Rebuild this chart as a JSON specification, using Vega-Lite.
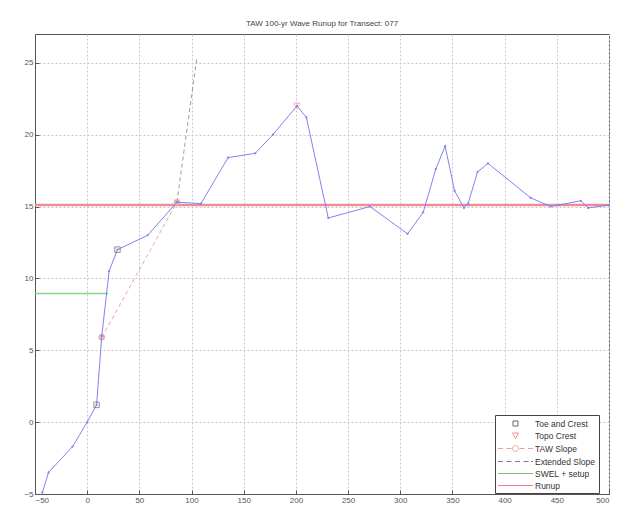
{
  "$schema": "https://vega.github.io/schema/vega-lite/v6.json",
  "width": 574,
  "height": 460,
  "autosize": "none",
  "padding": {"left": 35, "top": 34, "right": 16, "bottom": 18},
  "background": "white",
  "title": {"text": "TAW 100-yr Wave Runup for Transect: 077", "fontSize": 8, "fontWeight": "normal", "font": "Liberation Sans", "color": "#444", "offset": 6},
  "config": {
    "view": {"stroke": "#555", "strokeWidth": 1},
    "axis": {"grid": true, "gridColor": "#c8c8c8", "gridDash": [2, 2], "gridWidth": 1, "domainColor": "#555", "tickColor": "#555", "tickSize": -4, "labelFontSize": 8, "labelColor": "#555", "labelFont": "Liberation Sans", "title": null}
  },
  "layer": [
    {
      "data": {"values": [{"x": -50, "y": 15.1}, {"x": 500, "y": 15.1}]},
      "mark": {"type": "line", "stroke": "#f08a96", "strokeWidth": 2.5, "clip": true},
      "encoding": {
        "x": {"field": "x", "type": "quantitative", "scale": {"domain": [-50, 500], "nice": false, "zero": false}, "axis": {"values": [-50, 0, 50, 100, 150, 200, 250, 300, 350, 400, 450, 500], "labelPadding": 6}},
        "y": {"field": "y", "type": "quantitative", "scale": {"domain": [-5, 27], "nice": false, "zero": false}, "axis": {"values": [-5, 0, 5, 10, 15, 20, 25], "labelPadding": 6}}
      }
    },
    {
      "data": {"values": [{"x": -50, "y": 8.95}, {"x": 20, "y": 8.95}]},
      "mark": {"type": "line", "stroke": "#86d486", "strokeWidth": 1.5},
      "encoding": {"x": {"field": "x", "type": "quantitative"}, "y": {"field": "y", "type": "quantitative"}}
    },
    {
      "data": {"values": [{"x": 86, "y": 15.3}, {"x": 105, "y": 25.3}]},
      "mark": {"type": "line", "stroke": "#9a9ab4", "strokeWidth": 1, "strokeDash": [4, 3]},
      "encoding": {"x": {"field": "x", "type": "quantitative"}, "y": {"field": "y", "type": "quantitative"}}
    },
    {
      "data": {"values": [{"x": 14, "y": 5.9}, {"x": 86, "y": 15.3}]},
      "mark": {"type": "line", "stroke": "#eba8a8", "strokeWidth": 1, "strokeDash": [4, 3], "point": {"shape": "circle", "filled": false, "size": 20, "color": "#eba8a8"}},
      "encoding": {"x": {"field": "x", "type": "quantitative"}, "y": {"field": "y", "type": "quantitative"}}
    },
    {
      "data": {"values": [
        {"x": -43, "y": -4.9}, {"x": -37, "y": -3.5}, {"x": -14, "y": -1.7}, {"x": 0, "y": 0},
        {"x": 9, "y": 1.2}, {"x": 14, "y": 6}, {"x": 21, "y": 10.5}, {"x": 29, "y": 12},
        {"x": 58, "y": 13}, {"x": 86, "y": 15.3}, {"x": 109, "y": 15.2}, {"x": 135, "y": 18.4},
        {"x": 161, "y": 18.7}, {"x": 178, "y": 20.0}, {"x": 201, "y": 22.0}, {"x": 210, "y": 21.2},
        {"x": 231, "y": 14.2}, {"x": 271, "y": 15.0}, {"x": 307, "y": 13.1}, {"x": 322, "y": 14.6},
        {"x": 334, "y": 17.6}, {"x": 343, "y": 19.2}, {"x": 352, "y": 16.1}, {"x": 361, "y": 14.9},
        {"x": 365, "y": 15.2}, {"x": 374, "y": 17.4}, {"x": 384, "y": 18.0}, {"x": 425, "y": 15.6},
        {"x": 444, "y": 15.0}, {"x": 452, "y": 15.1}, {"x": 473, "y": 15.4}, {"x": 480, "y": 14.9},
        {"x": 500, "y": 15.1}
      ]},
      "mark": {"type": "line", "stroke": "#8282ec", "strokeWidth": 1, "point": {"filled": true, "size": 5, "color": "#8282ec"}},
      "encoding": {"x": {"field": "x", "type": "quantitative"}, "y": {"field": "y", "type": "quantitative"}}
    },
    {
      "data": {"values": [{"x": 9, "y": 1.2}, {"x": 29, "y": 12}]},
      "mark": {"type": "point", "shape": "square", "filled": false, "size": 30, "color": "#666", "strokeWidth": 1},
      "encoding": {"x": {"field": "x", "type": "quantitative"}, "y": {"field": "y", "type": "quantitative"}}
    },
    {
      "data": {"values": [{"x": 201, "y": 22.0}]},
      "mark": {"type": "point", "shape": "triangle-down", "filled": false, "size": 40, "color": "#e39a9a", "strokeWidth": 1},
      "encoding": {"x": {"field": "x", "type": "quantitative"}, "y": {"field": "y", "type": "quantitative"}}
    },
    {
      "data": {"values": [
        {"s": "Toe and Crest", "x": 9, "y": 1.2},
        {"s": "Topo Crest", "x": 201, "y": 22},
        {"s": "TAW Slope", "x": 14, "y": 5.9},
        {"s": "Extended Slope", "x": 105, "y": 25.3},
        {"s": "SWEL + setup", "x": -50, "y": 8.95},
        {"s": "Runup", "x": 500, "y": 15.1}
      ]},
      "mark": {"type": "point", "filled": false, "opacity": 0, "strokeWidth": 1},
      "encoding": {
        "x": {"field": "x", "type": "quantitative"},
        "y": {"field": "y", "type": "quantitative"},
        "color": {"field": "s", "type": "nominal", "scale": {"domain": ["Toe and Crest", "Topo Crest", "TAW Slope", "Extended Slope", "SWEL + setup", "Runup"], "range": ["#666666", "#e39a9a", "#eba0a0", "#7a7a9a", "#70c870", "#f07a86"]},
          "legend": {"title": null, "orient": "none", "legendX": 460, "legendY": 381, "strokeColor": "#444", "fillColor": "#ffffff", "padding": 3, "labelFontSize": 8.5, "labelFont": "Liberation Sans", "labelColor": "#333", "symbolSize": 100, "symbolOpacity": 1, "symbolStrokeWidth": 1, "symbolOffset": 12, "labelOffset": 14, "rowPadding": 2}},
        "shape": {"field": "s", "type": "nominal", "scale": {"domain": ["Toe and Crest", "Topo Crest", "TAW Slope", "Extended Slope", "SWEL + setup", "Runup"], "range": [
          "M-0.5,-0.5H0.5V0.5H-0.5Z",
          "M-0.6,-0.5L0.6,-0.5L0,0.6Z",
          "M-3.5,0H-2.5M-1.8,0H-0.8M0.8,0H1.8M2.5,0H3.5M0.6,0A0.6,0.6 0 1,1 -0.6,0A0.6,0.6 0 1,1 0.6,0Z",
          "M-3.5,0H-2.5M-1.8,0H-0.8M-0.1,0H0.9M1.6,0H2.6M3.1,0H3.5",
          "M-3.5,0.001H3.5",
          "M-3.5,0H3.5"
        ]}, "legend": {"title": null}}
      }
    }
  ]
}
